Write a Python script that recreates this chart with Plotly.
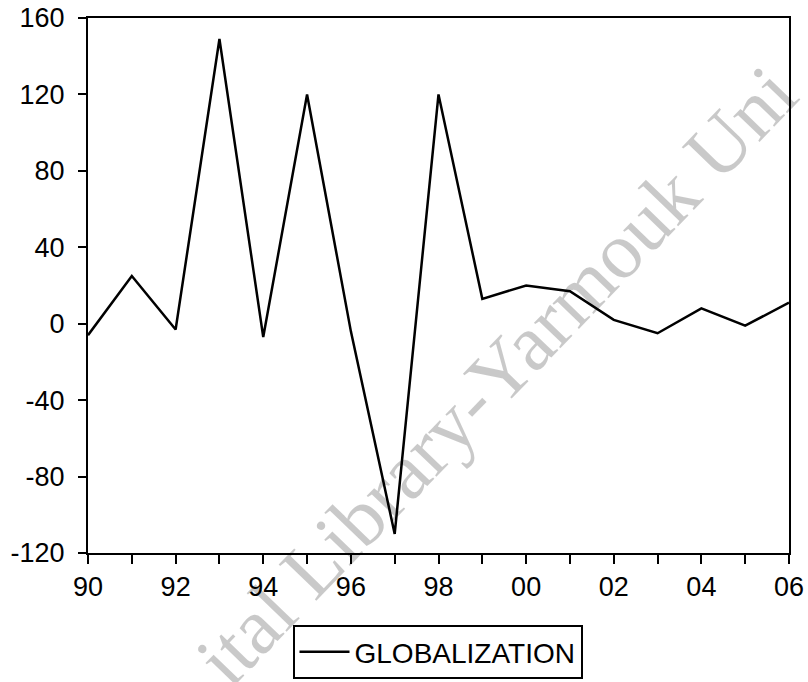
import plotly.graph_objects as go

# Annual series, 1990-2006
years = list(range(1990, 2007))
globalization = [-6, 25, -3, 149, -7, 120, -4, -110, 120, 13, 20, 17, 2, -5, 8, -1, 11]

# Year ticks on every year, labels every second year as two-digit years
tick_vals = years
tick_text = [f"{y % 100:02d}" if (y - 1990) % 2 == 0 else "" for y in years]
y_ticks = [-120, -80, -40, 0, 40, 80, 120, 160]
y_tick_text = [str(v) for v in y_ticks]

W, H = 808, 682
L, R, T, B = 88, 19, 18, 129

fig = go.Figure()
fig.add_trace(go.Scatter(
    x=years, y=globalization, mode="lines", name="GLOBALIZATION",
    line=dict(color="black", width=2.5),
))

# Diagonal library stamp across the plot (translucent so the series shows through)
fig.add_annotation(
    text="ital Library-Yarmouk Uni",
    xref="paper", yref="paper",
    x=(496 - L) / (W - L - R), y=((H - B) - 376) / (H - B - T),
    xanchor="center", yanchor="middle",
    showarrow=False, textangle=-46,
    font=dict(family="Liberation Serif", size=80, color="rgba(0,0,0,0.21)"),
)

fig.update_layout(
    width=W, height=H,
    margin=dict(l=L, r=R, t=T, b=B, autoexpand=False),
    paper_bgcolor="white", plot_bgcolor="white",
    font=dict(family="Liberation Sans", color="black"),
    showlegend=True,
    legend=dict(
        orientation="h",
        xref="container", x=437.5 / W, xanchor="center",
        yref="container", y=1 - 625 / H, yanchor="top",
        bordercolor="black", borderwidth=2, bgcolor="rgba(255,255,255,0)",
        itemwidth=50,
        font=dict(size=28, family="Liberation Sans"),
    ),
)
fig.update_xaxes(
    range=[1990, 2006], tickvals=tick_vals, ticktext=tick_text,
    ticks="outside", ticklen=9, tickwidth=2, tickcolor="black",
    showline=True, linecolor="black", linewidth=2, mirror=True,
    showgrid=False, zeroline=False, automargin=False,
    tickfont=dict(size=27, family="Liberation Sans"),
)
fig.update_yaxes(
    range=[-120, 160], tickvals=y_ticks, ticktext=y_tick_text,
    ticks="outside", ticklen=8, tickwidth=2, tickcolor="black",
    showline=True, linecolor="black", linewidth=2, mirror=True,
    showgrid=False, zeroline=False, automargin=False,
    ticklabelstandoff=8,
    tickfont=dict(size=27, family="Liberation Sans"),
)

fig.write_html("out.html")
